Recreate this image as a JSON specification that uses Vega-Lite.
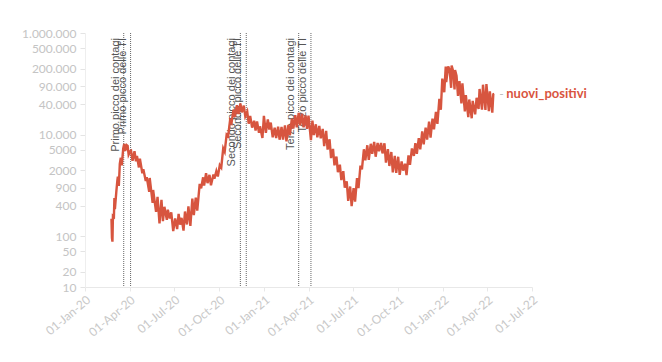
{
  "$schema": "https://vega.github.io/schema/vega-lite/v6.json",
  "width": 447,
  "height": 254,
  "autosize": {"type": "none"},
  "padding": {"left": 85, "top": 33, "right": 130, "bottom": 75},
  "background": "white",
  "config": {"view": {"stroke": null}, "font": "Lato"},
  "datasets": {
    "events": [
      {"d": "2020-03-20", "label": "Primo picco dei contagi"},
      {"d": "2020-04-03", "label": "Primo picco delle TI"},
      {"d": "2020-11-13", "label": "Secondo picco dei contagi"},
      {"d": "2020-11-25", "label": "Secondo picco delle TI"},
      {"d": "2021-03-12", "label": "Terzo picco dei contagi"},
      {"d": "2021-04-06", "label": "Terzo picco delle TI"}
    ],
    "ends": [
      {"d": "2022-04-15", "v": 63000, "name": "nuovi_positivi"}
    ],
    "series": [
      {"d": "2020-02-24", "v": 221}, {"d": "2020-02-25", "v": 93}, {"d": "2020-02-26", "v": 78}, {"d": "2020-02-27", "v": 250},
      {"d": "2020-02-29", "v": 240}, {"d": "2020-03-01", "v": 566}, {"d": "2020-03-02", "v": 342}, {"d": "2020-03-05", "v": 769},
      {"d": "2020-03-07", "v": 1247}, {"d": "2020-03-08", "v": 1492}, {"d": "2020-03-10", "v": 977}, {"d": "2020-03-12", "v": 2651},
      {"d": "2020-03-14", "v": 3497}, {"d": "2020-03-16", "v": 2470}, {"d": "2020-03-19", "v": 5322}, {"d": "2020-03-21", "v": 6557},
      {"d": "2020-03-23", "v": 4789}, {"d": "2020-03-26", "v": 6203}, {"d": "2020-03-28", "v": 5974}, {"d": "2020-03-30", "v": 4050},
      {"d": "2020-04-02", "v": 4668}, {"d": "2020-04-04", "v": 4805}, {"d": "2020-04-07", "v": 3039}, {"d": "2020-04-11", "v": 4694},
      {"d": "2020-04-14", "v": 2972}, {"d": "2020-04-16", "v": 3786}, {"d": "2020-04-20", "v": 2256}, {"d": "2020-04-22", "v": 3370},
      {"d": "2020-04-27", "v": 1739}, {"d": "2020-04-29", "v": 2086}, {"d": "2020-05-04", "v": 1221}, {"d": "2020-05-06", "v": 1444},
      {"d": "2020-05-11", "v": 744}, {"d": "2020-05-12", "v": 1402}, {"d": "2020-05-18", "v": 451}, {"d": "2020-05-19", "v": 813},
      {"d": "2020-05-25", "v": 300}, {"d": "2020-05-28", "v": 593}, {"d": "2020-06-01", "v": 178}, {"d": "2020-06-05", "v": 518},
      {"d": "2020-06-08", "v": 197}, {"d": "2020-06-11", "v": 379}, {"d": "2020-06-16", "v": 210}, {"d": "2020-06-18", "v": 333},
      {"d": "2020-06-22", "v": 224}, {"d": "2020-06-25", "v": 296}, {"d": "2020-06-29", "v": 126}, {"d": "2020-07-03", "v": 223},
      {"d": "2020-07-07", "v": 138}, {"d": "2020-07-10", "v": 276}, {"d": "2020-07-13", "v": 169}, {"d": "2020-07-16", "v": 230},
      {"d": "2020-07-20", "v": 129}, {"d": "2020-07-23", "v": 306}, {"d": "2020-07-27", "v": 170}, {"d": "2020-07-30", "v": 386},
      {"d": "2020-08-03", "v": 159}, {"d": "2020-08-07", "v": 552}, {"d": "2020-08-10", "v": 259}, {"d": "2020-08-14", "v": 574},
      {"d": "2020-08-17", "v": 320}, {"d": "2020-08-22", "v": 1071}, {"d": "2020-08-25", "v": 878}, {"d": "2020-08-29", "v": 1444},
      {"d": "2020-08-31", "v": 996}, {"d": "2020-09-04", "v": 1733}, {"d": "2020-09-07", "v": 1108}, {"d": "2020-09-11", "v": 1616},
      {"d": "2020-09-14", "v": 1008}, {"d": "2020-09-19", "v": 1638}, {"d": "2020-09-21", "v": 1350}, {"d": "2020-09-25", "v": 1912},
      {"d": "2020-09-28", "v": 1494}, {"d": "2020-10-02", "v": 2499}, {"d": "2020-10-05", "v": 2257}, {"d": "2020-10-09", "v": 5372},
      {"d": "2020-10-12", "v": 4619}, {"d": "2020-10-16", "v": 10010}, {"d": "2020-10-19", "v": 9338}, {"d": "2020-10-23", "v": 19143},
      {"d": "2020-10-26", "v": 17012}, {"d": "2020-10-30", "v": 31084}, {"d": "2020-11-02", "v": 22253}, {"d": "2020-11-06", "v": 37809},
      {"d": "2020-11-09", "v": 25271}, {"d": "2020-11-13", "v": 40902}, {"d": "2020-11-16", "v": 27354}, {"d": "2020-11-20", "v": 37242},
      {"d": "2020-11-23", "v": 22930}, {"d": "2020-11-27", "v": 28352}, {"d": "2020-11-30", "v": 16377}, {"d": "2020-12-03", "v": 23225},
      {"d": "2020-12-07", "v": 13720}, {"d": "2020-12-11", "v": 18727}, {"d": "2020-12-14", "v": 12030}, {"d": "2020-12-17", "v": 18236},
      {"d": "2020-12-21", "v": 10872}, {"d": "2020-12-23", "v": 14522}, {"d": "2020-12-28", "v": 8585}, {"d": "2020-12-31", "v": 23477},
      {"d": "2021-01-04", "v": 10800}, {"d": "2021-01-08", "v": 19978}, {"d": "2021-01-11", "v": 12532}, {"d": "2021-01-14", "v": 17246},
      {"d": "2021-01-18", "v": 8825}, {"d": "2021-01-22", "v": 13633}, {"d": "2021-01-25", "v": 8561}, {"d": "2021-01-29", "v": 14372},
      {"d": "2021-02-01", "v": 7925}, {"d": "2021-02-05", "v": 14218}, {"d": "2021-02-08", "v": 7970}, {"d": "2021-02-12", "v": 15146},
      {"d": "2021-02-15", "v": 7351}, {"d": "2021-02-19", "v": 15479}, {"d": "2021-02-22", "v": 9630}, {"d": "2021-02-26", "v": 20499},
      {"d": "2021-03-01", "v": 13114}, {"d": "2021-03-05", "v": 24036}, {"d": "2021-03-08", "v": 13902}, {"d": "2021-03-12", "v": 26824},
      {"d": "2021-03-15", "v": 15267}, {"d": "2021-03-19", "v": 25735}, {"d": "2021-03-22", "v": 13846}, {"d": "2021-03-26", "v": 23839},
      {"d": "2021-03-29", "v": 12916}, {"d": "2021-04-01", "v": 23649}, {"d": "2021-04-06", "v": 7767}, {"d": "2021-04-09", "v": 18938},
      {"d": "2021-04-12", "v": 9789}, {"d": "2021-04-16", "v": 15943}, {"d": "2021-04-19", "v": 8864}, {"d": "2021-04-23", "v": 14761},
      {"d": "2021-04-26", "v": 8444}, {"d": "2021-04-30", "v": 12965}, {"d": "2021-05-03", "v": 5948}, {"d": "2021-05-07", "v": 11807},
      {"d": "2021-05-10", "v": 5080}, {"d": "2021-05-14", "v": 8085}, {"d": "2021-05-17", "v": 3455}, {"d": "2021-05-21", "v": 5218},
      {"d": "2021-05-24", "v": 2490}, {"d": "2021-05-28", "v": 3695}, {"d": "2021-05-31", "v": 1820}, {"d": "2021-06-04", "v": 2557},
      {"d": "2021-06-07", "v": 1273}, {"d": "2021-06-11", "v": 1901}, {"d": "2021-06-14", "v": 907}, {"d": "2021-06-18", "v": 1197},
      {"d": "2021-06-21", "v": 495}, {"d": "2021-06-25", "v": 952}, {"d": "2021-06-28", "v": 389}, {"d": "2021-07-02", "v": 882},
      {"d": "2021-07-05", "v": 480}, {"d": "2021-07-09", "v": 1394}, {"d": "2021-07-12", "v": 888}, {"d": "2021-07-16", "v": 2455},
      {"d": "2021-07-19", "v": 2072}, {"d": "2021-07-23", "v": 5143}, {"d": "2021-07-26", "v": 3117}, {"d": "2021-07-30", "v": 6171},
      {"d": "2021-08-02", "v": 3190}, {"d": "2021-08-06", "v": 6599}, {"d": "2021-08-09", "v": 4206}, {"d": "2021-08-13", "v": 7188},
      {"d": "2021-08-16", "v": 3667}, {"d": "2021-08-20", "v": 6863}, {"d": "2021-08-23", "v": 4698}, {"d": "2021-08-27", "v": 6861},
      {"d": "2021-08-30", "v": 4257}, {"d": "2021-09-03", "v": 6735}, {"d": "2021-09-06", "v": 2800}, {"d": "2021-09-10", "v": 5193},
      {"d": "2021-09-13", "v": 2409}, {"d": "2021-09-17", "v": 4552}, {"d": "2021-09-20", "v": 1800}, {"d": "2021-09-24", "v": 3797},
      {"d": "2021-09-27", "v": 1772}, {"d": "2021-10-01", "v": 3663}, {"d": "2021-10-04", "v": 1612}, {"d": "2021-10-08", "v": 2970},
      {"d": "2021-10-11", "v": 1956}, {"d": "2021-10-15", "v": 2668}, {"d": "2021-10-18", "v": 1597}, {"d": "2021-10-22", "v": 3882},
      {"d": "2021-10-25", "v": 2535}, {"d": "2021-10-29", "v": 5335}, {"d": "2021-11-02", "v": 3821}, {"d": "2021-11-05", "v": 6764},
      {"d": "2021-11-08", "v": 4197}, {"d": "2021-11-12", "v": 8516}, {"d": "2021-11-15", "v": 5144}, {"d": "2021-11-19", "v": 11555},
      {"d": "2021-11-22", "v": 6404}, {"d": "2021-11-26", "v": 13686}, {"d": "2021-11-29", "v": 7975}, {"d": "2021-12-03", "v": 17959},
      {"d": "2021-12-06", "v": 8744}, {"d": "2021-12-10", "v": 20677}, {"d": "2021-12-13", "v": 12712}, {"d": "2021-12-17", "v": 28064},
      {"d": "2021-12-20", "v": 16213}, {"d": "2021-12-24", "v": 50599}, {"d": "2021-12-27", "v": 30810}, {"d": "2021-12-30", "v": 126888},
      {"d": "2022-01-03", "v": 68052}, {"d": "2022-01-06", "v": 219441}, {"d": "2022-01-07", "v": 108304}, {"d": "2022-01-11", "v": 220532},
      {"d": "2022-01-14", "v": 186253}, {"d": "2022-01-17", "v": 83403}, {"d": "2022-01-18", "v": 228179}, {"d": "2022-01-21", "v": 179106},
      {"d": "2022-01-24", "v": 77696}, {"d": "2022-01-25", "v": 186740}, {"d": "2022-01-28", "v": 143898}, {"d": "2022-01-31", "v": 57715},
      {"d": "2022-02-03", "v": 112691}, {"d": "2022-02-07", "v": 41247}, {"d": "2022-02-09", "v": 101864}, {"d": "2022-02-14", "v": 28630},
      {"d": "2022-02-16", "v": 60019}, {"d": "2022-02-21", "v": 22000}, {"d": "2022-02-23", "v": 49040}, {"d": "2022-02-28", "v": 21000},
      {"d": "2022-03-02", "v": 46000}, {"d": "2022-03-07", "v": 25000}, {"d": "2022-03-10", "v": 53000}, {"d": "2022-03-14", "v": 32000},
      {"d": "2022-03-16", "v": 79000}, {"d": "2022-03-21", "v": 31000}, {"d": "2022-03-23", "v": 96000}, {"d": "2022-03-28", "v": 30700},
      {"d": "2022-03-30", "v": 99000}, {"d": "2022-04-04", "v": 29000}, {"d": "2022-04-06", "v": 71000}, {"d": "2022-04-11", "v": 27000},
      {"d": "2022-04-13", "v": 62000}, {"d": "2022-04-15", "v": 63000}
    ]
  },
  "encoding": {
    "x": {
      "field": "d",
      "type": "temporal",
      "scale": {
        "type": "utc",
        "domain": [{"year": 2020, "month": 1, "date": 1, "utc": true}, {"year": 2022, "month": 7, "date": 1, "utc": true}]
      },
      "axis": {
        "title": null,
        "values": [
          {"year": 2020, "month": 1, "date": 1, "utc": true}, {"year": 2020, "month": 4, "date": 1, "utc": true},
          {"year": 2020, "month": 7, "date": 1, "utc": true}, {"year": 2020, "month": 10, "date": 1, "utc": true},
          {"year": 2021, "month": 1, "date": 1, "utc": true}, {"year": 2021, "month": 4, "date": 1, "utc": true},
          {"year": 2021, "month": 7, "date": 1, "utc": true}, {"year": 2021, "month": 10, "date": 1, "utc": true},
          {"year": 2022, "month": 1, "date": 1, "utc": true}, {"year": 2022, "month": 4, "date": 1, "utc": true},
          {"year": 2022, "month": 7, "date": 1, "utc": true}
        ],
        "format": "%d-%b-%y",
        "labelAngle": -40,
        "labelAlign": "right",
        "labelBaseline": "top",
        "labelColor": "#c8c8c8",
        "labelFontSize": 12,
        "labelOverlap": false,
        "labelPadding": 3,
        "domainColor": "#e8e8e8",
        "tickColor": "#e8e8e8",
        "tickSize": 4,
        "grid": false
      }
    }
  },
  "layer": [
    {
      "data": {"name": "events"},
      "mark": {"type": "rule", "strokeDash": [1, 1], "color": "#666", "strokeWidth": 1}
    },
    {
      "data": {"name": "events"},
      "mark": {"type": "text", "angle": 270, "align": "right", "baseline": "bottom", "dx": -5, "dy": -3, "font": "Liberation Sans", "fontSize": 11, "color": "#555"},
      "encoding": {
        "y": {"datum": 1000000, "type": "quantitative"},
        "text": {"field": "label"}
      }
    },
    {
      "data": {"name": "series"},
      "mark": {"type": "line", "color": "#d7553f", "strokeWidth": 2.4},
      "encoding": {
        "y": {
          "field": "v",
          "type": "quantitative",
          "scale": {"type": "log", "domain": [10, 1000000]},
          "axis": {
            "title": null,
            "values": [10, 20, 50, 100, 400, 900, 2000, 5000, 10000, 40000, 90000, 200000, 500000, 1000000],
            "labelExpr": "datum.value >= 10000 ? replace(format(datum.value, ','), /,/g, '.') : format(datum.value, 'd')",
            "labelColor": "#c4c4c4",
            "labelFontSize": 12,
            "labelOverlap": false,
            "labelPadding": 4,
            "domainColor": "#eeeeee",
            "tickColor": "#e4e4e4",
            "tickSize": 5,
            "grid": false
          }
        }
      }
    },
    {
      "data": {"name": "ends"},
      "mark": {"type": "text", "align": "left", "baseline": "middle", "dx": 5, "fontSize": 12, "color": "#bbbbbb", "text": "-"},
      "encoding": {"y": {"field": "v", "type": "quantitative"}}
    },
    {
      "data": {"name": "ends"},
      "mark": {"type": "text", "align": "left", "baseline": "middle", "dx": 12, "fontSize": 13, "fontWeight": "bold", "color": "#d9553f"},
      "encoding": {"y": {"field": "v", "type": "quantitative"}, "text": {"field": "name"}}
    }
  ]
}
